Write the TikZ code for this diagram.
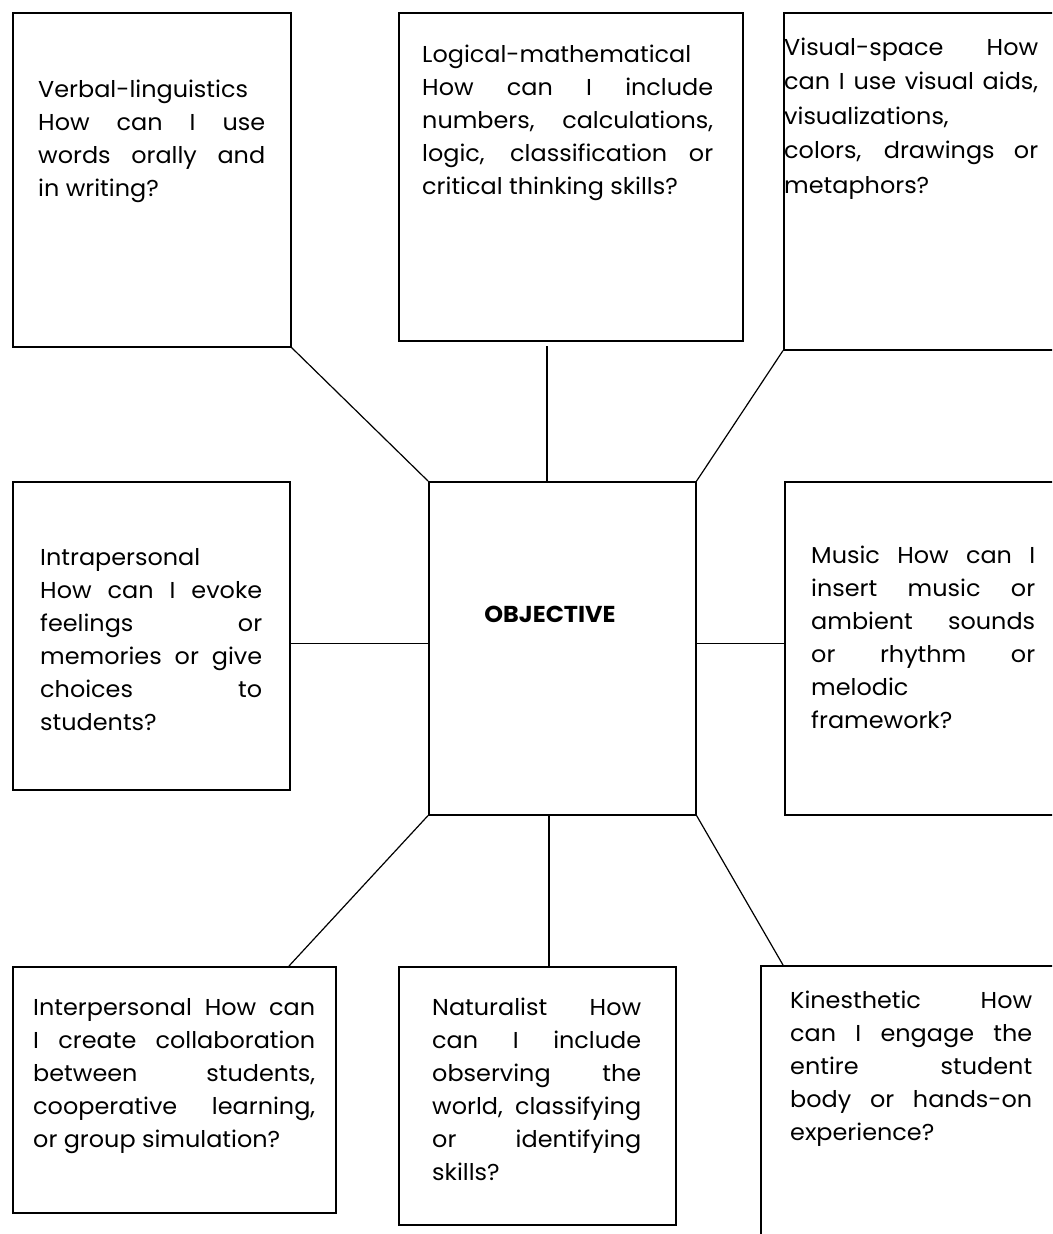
\documentclass[tikz,border=0pt]{standalone}
\usepackage{fontspec}
\setmainfont{Poppins}[FakeStretch=1.04]
\usepackage{tikz}
\newcommand{\jl}[1]{\makebox[\hsize][s]{\spaceskip=0pt \xspaceskip=0pt #1}}

\begin{document}
\begin{tikzpicture}[x=1pt, y=-1pt,
    box/.style={draw, line width=1.6pt, anchor=north west, inner sep=0pt},
    txt/.style={anchor=base west, inner sep=0pt, align=justify, font=\fontsize{23}{33}\selectfont},
    link/.style={line width=1.2pt}]
    \clip (0,0) rectangle (1052,1234);
    \node [box, minimum width=278pt, minimum height=334pt] (v) at (12, 12) {};
    \node [box, minimum width=344pt, minimum height=328pt] (l) at (398, 12) {};
    \node [box, minimum width=300pt, minimum height=337pt] (s) at (783, 12) {};
    \node [box, minimum width=277pt, minimum height=308pt] (a) at (12, 481) {};
    \node [box, minimum width=267pt, minimum height=333pt] (o) at (428, 481) {};
    \node [box, minimum width=300pt, minimum height=333pt] (m) at (784, 481) {};
    \node [box, minimum width=323pt, minimum height=246pt] (p) at (12, 966) {};
    \node [box, minimum width=277pt, minimum height=258pt] (n) at (398, 966) {};
    \node [box, minimum width=300pt, minimum height=300pt] (k) at (760, 965) {};
    \node [txt, text width=227pt] (vt) at (38, 97) {Verbal-linguistics\\ \jl{How can I use}\\ \jl{words orally and}\\ in writing?};
    \node [txt, text width=291pt] (lt) at (422, 62) {Logical-mathematical\\ \jl{How can I include}\\ \jl{numbers, calculations,}\\ \jl{logic, classification or}\\ critical thinking skills?};
    \node [txt, text width=254pt, font=\fontsize{23}{34.5}\selectfont] (st) at (784, 55) {\jl{Visual-space How}\\ \jl{can I use visual aids,}\\ visualizations,\\ \jl{colors, drawings or}\\ metaphors?};
    \node [txt, text width=222pt] (at) at (40, 565) {Intrapersonal\\ \jl{How can I evoke}\\ \jl{feelings or}\\ \jl{memories or give}\\ \jl{choices to}\\ students?};
    \node [txt, anchor=base, align=center, font=\fontsize{23}{33}\bfseries] (ot) at (550, 622) {OBJECTIVE};
    \node [txt, text width=224pt] (mt) at (811, 563) {\jl{Music How can I}\\ \jl{insert music or}\\ \jl{ambient sounds}\\ \jl{or rhythm or}\\ melodic\\ framework?};
    \node [txt, text width=282pt] (pt) at (33, 1015) {\jl{Interpersonal How can}\\ \jl{I create collaboration}\\ \jl{between students,}\\ \jl{cooperative learning,}\\ or group simulation?};
    \node [txt, text width=209pt] (nt) at (432, 1015) {\jl{Naturalist How}\\ \jl{can I include}\\ \jl{observing the}\\ \jl{world, classifying}\\ \jl{or identifying}\\ skills?};
    \node [txt, text width=242pt] (kt) at (790, 1008) {\jl{Kinesthetic How}\\ \jl{can I engage the}\\ \jl{entire student}\\ \jl{body or hands-on}\\ experience?};
    \coordinate (lc) at (547, 346);
    \draw [link] (v.south east) to (o.north west);
    \draw [link] (lc) to (lc |- o.north);
    \draw [link] (s.south west) to (o.north east);
    \draw [link] ([yshift=5pt]o.west) to ([yshift=5pt]o.west -| a.east);
    \draw [link] ([yshift=5pt]o.east) to ([yshift=5pt]o.east -| m.west);
    \draw [link] (o.south west) to ([xshift=277pt]p.north west);
    \draw [link] ([xshift=151pt]n.north west) to ([xshift=151pt]n.north west |- o.south);
    \draw [link] (o.south east) to ([xshift=23pt]k.north west);
\end{tikzpicture}
\end{document}
